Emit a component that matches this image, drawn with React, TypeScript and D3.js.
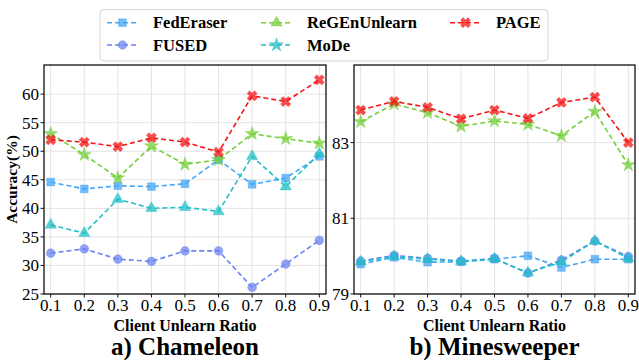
import React from "react";
import * as d3 from "d3";

const ratios = [0.1, 0.2, 0.3, 0.4, 0.5, 0.6, 0.7, 0.8, 0.9];
const methods = ["FedEraser", "FUSED", "ReGEnUnlearn", "MoDe", "PAGE"];

// a) Chameleon
const chamFedEraser = [44.6, 43.4, 43.95, 43.8, 44.3, 48.5, 44.2, 45.3, 49.1];
const chamFUSED = [32.15, 32.9, 31.1, 30.7, 32.55, 32.55, 26.15, 30.25, 34.4];
const chamReGEn = [53.05, 49.4, 45.3, 50.9, 47.7, 48.5, 53.05, 52.2, 51.4];
const chamMoDe = [37.1, 35.65, 41.6, 40.0, 40.2, 39.45, 49.1, 43.8, 49.55];
const chamPAGE = [52.0, 51.6, 50.8, 52.35, 51.6, 49.85, 59.7, 58.7, 62.5];
const chamTicks = [25, 30, 35, 40, 45, 50, 55, 60];

// b) Minesweeper
const mineFedEraser = [79.79, 79.97, 79.84, 79.85, 79.92, 80.01, 79.7, 79.92, 79.92];
const mineFUSED = [79.87, 80.02, 79.94, 79.87, 79.94, 79.55, 79.9, 80.4, 79.99];
const mineReGEn = [83.55, 84.02, 83.79, 83.43, 83.57, 83.48, 83.18, 83.82, 82.41];
const mineMoDe = [79.85, 79.99, 79.92, 79.86, 79.93, 79.56, 79.85, 80.4, 79.94];
const minePAGE = [83.86, 84.09, 83.93, 83.63, 83.86, 83.64, 84.06, 84.2, 83.0];
const mineTicks = [79, 81, 83];

const colors: Record<string, string> = {
  FedEraser: "#44a6f6",
  FUSED: "#6b84f2",
  ReGEnUnlearn: "#76cf3c",
  MoDe: "#22bfc6",
  PAGE: "#f51515",
};

// markers used on the plot lines
const plotSymbols: Record<string, any> = {
  FedEraser: [d3.symbolSquare, 60, 0],
  FUSED: [d3.symbolCircle, 60, 0],
  ReGEnUnlearn: [d3.symbolStar, 60, 0],
  MoDe: [d3.symbolTriangle, 55, 0],
  PAGE: [d3.symbolCross, 60, 45],
};
// markers shown in the legend
const legendSymbols: Record<string, any> = {
  FedEraser: [d3.symbolSquare, 60, 0],
  FUSED: [d3.symbolCircle, 60, 0],
  ReGEnUnlearn: [d3.symbolTriangle, 55, 0],
  MoDe: [d3.symbolStar, 60, 0],
  PAGE: [d3.symbolCross, 60, 45],
};

const serif = "Liberation Serif";

const Marker = ({ spec, x, y, color }: any) => {
  const [type, size, rot] = spec;
  const path = d3.symbol().type(type).size(size)() || "";
  return (
    <path
      d={path}
      transform={`translate(${x},${y}) rotate(${rot})`}
      fill={color}
      fillOpacity={0.75}
      stroke={color}
      strokeOpacity={0.4}
      strokeWidth={1}
    />
  );
};

const Panel = ({ left, right, top, bottom, domain, ticks, series, title, showYLabel }: any) => {
  const x = d3.scaleLinear().domain([0.08, 0.92]).range([left, right]);
  const y = d3.scaleLinear().domain(domain).range([bottom, top]);
  const line = d3
    .line<number>()
    .x((_, i) => x(ratios[i]))
    .y((d) => y(d));
  const cx = (left + right) / 2;
  return (
    <g>
      {ratios.map((r) => (
        <line key={"gx" + r} x1={x(r)} x2={x(r)} y1={top} y2={bottom} stroke="#e3e3e3" strokeWidth={1} />
      ))}
      {ticks.map((t: number) => (
        <line key={"gy" + t} x1={left} x2={right} y1={y(t)} y2={y(t)} stroke="#e3e3e3" strokeWidth={1} />
      ))}
      {methods.map((m, k) => (
        <g key={m}>
          <path
            d={line(series[k]) || ""}
            fill="none"
            stroke={colors[m]}
            strokeWidth={1.6}
            strokeDasharray="5,3"
          />
          {series[k].map((v: number, i: number) => (
            <Marker key={i} spec={plotSymbols[m]} x={x(ratios[i])} y={y(v)} color={colors[m]} />
          ))}
        </g>
      ))}
      <rect x={left} y={top} width={right - left} height={bottom - top} fill="none" stroke="#111" strokeWidth={1.3} />
      {ticks.map((t: number) => (
        <g key={"ty" + t}>
          <line x1={left - 3.5} x2={left} y1={y(t)} y2={y(t)} stroke="#111" />
          <text x={left - 5} y={y(t)} dy="0.35em" textAnchor="end" fontFamily={serif} fontSize={17}>
            {t}
          </text>
        </g>
      ))}
      {ratios.map((r) => (
        <g key={"tx" + r}>
          <line x1={x(r)} x2={x(r)} y1={bottom} y2={bottom + 3.5} stroke="#111" />
          <text x={x(r)} y={bottom + 17} textAnchor="middle" fontFamily={serif} fontSize={17}>
            {r.toFixed(1)}
          </text>
        </g>
      ))}
      <text x={cx} y={bottom + 37} textAnchor="middle" fontFamily={serif} fontWeight="bold" fontSize={16}>
        Client Unlearn Ratio
      </text>
      <text x={cx} y={bottom + 61} textAnchor="middle" fontFamily={serif} fontWeight="bold" fontSize={25}>
        {title}
      </text>
      {showYLabel && (
        <text
          transform={`translate(${left - 27},${(top + bottom) / 2}) rotate(-90)`}
          textAnchor="middle"
          fontFamily={serif}
          fontWeight="bold"
          fontSize={15.5}
        >
          Accuracy(%)
        </text>
      )}
    </g>
  );
};

const legendPos = [
  [107, 22.7],
  [107, 45],
  [261, 22.7],
  [261, 45],
  [450, 22.7],
];

const Legend = () => (
  <g>
    <rect x={100} y={9.5} width={448} height={51.5} rx={4} fill="#fff" stroke="#d6d6d6" strokeWidth={1} />
    {methods.map((m, k) => {
      const [lx, ly] = legendPos[k];
      return (
        <g key={m}>
          <line x1={lx} x2={lx + 31} y1={ly} y2={ly} stroke={colors[m]} strokeWidth={1.6} strokeDasharray="5,3" />
          <Marker spec={legendSymbols[m]} x={lx + 15.5} y={ly} color={colors[m]} />
          <text x={lx + 46} y={ly} dy="0.35em" fontFamily={serif} fontWeight="bold" fontSize={16.5}>
            {m}
          </text>
        </g>
      );
    })}
  </g>
);

export default function App() {
  return (
    <svg width={639} height={360} style={{ position: "absolute", left: 0, top: 0, background: "#fff" }}>
      <Panel
        left={44}
        right={326}
        top={65}
        bottom={294}
        domain={[25, 65.1]}
        ticks={chamTicks}
        series={[chamFedEraser, chamFUSED, chamReGEn, chamMoDe, chamPAGE]}
        title="a) Chameleon"
        showYLabel
      />
      <Panel
        left={354}
        right={635}
        top={65}
        bottom={294}
        domain={[79, 85.05]}
        ticks={mineTicks}
        series={[mineFedEraser, mineFUSED, mineReGEn, mineMoDe, minePAGE]}
        title="b) Minesweeper"
      />
      <Legend />
    </svg>
  );
}
